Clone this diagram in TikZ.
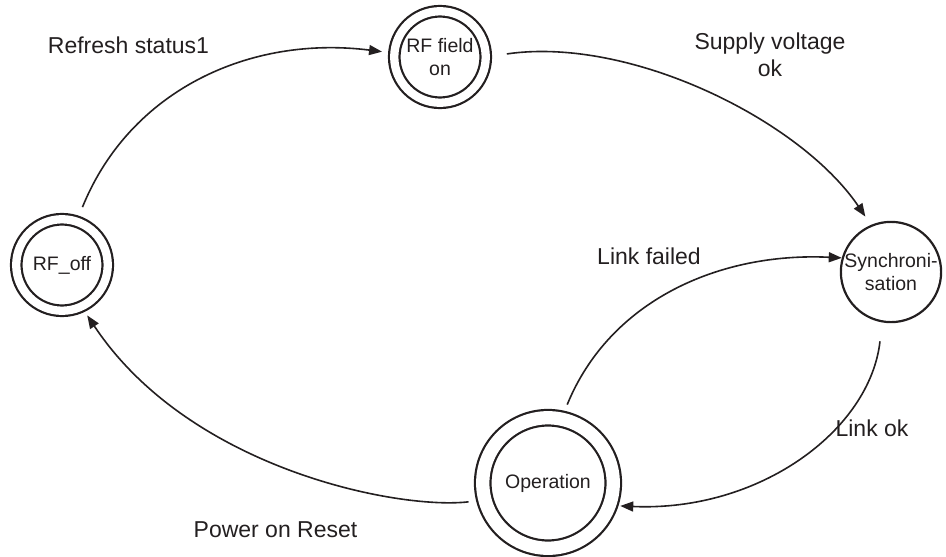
\documentclass[tikz,border=0pt]{standalone}
\usepackage{fontspec}
\setmainfont{Liberation Sans}
\usetikzlibrary{arrows.meta}
\definecolor{ink}{HTML}{231F20}
\tikzset{
  state/.style={circle, draw=ink, line width=2.2pt, inner sep=0pt, text=ink,
    align=center, font=\fontsize{19.5}{23}\selectfont},
  ringed/.style={state, double=white, double distance=#1},
  trans/.style={draw=ink, line width=1.6pt, -{Triangle[length=13pt,width=10pt]}},
  lbl/.style={text=ink, align=center, inner sep=0pt, font=\fontsize{23}{27}\selectfont},
}
\begin{document}
\begin{tikzpicture}[x=1pt,y=-1pt]
\useasboundingbox (0,0) rectangle (946,557);

% states
\node[ringed=8.3pt, minimum size=91.5pt, outer sep=6.25pt] (rfoff) at (62,265) {RF\_off};
\node[ringed=8.3pt, minimum size=91.5pt, outer sep=6.25pt] (rfon) at (440,57) {RF field\\on};
\node[state, minimum size=98pt, outer sep=1.1pt] (sync) at (891,272) {Synchroni-\\sation};
\node[ringed=13.3pt, minimum size=130.5pt, outer sep=8.75pt] (op) at (548,483) {Operation};

% transitions
\draw[trans, shorten <=9.4pt, shorten >=6.2pt]
  (rfoff.71) .. controls (130,90) and (250,35) .. (rfon.175);
\draw[trans, shorten <=15pt, shorten >=10pt]
  (rfon.1.7) .. controls (630,36) and (800,120) .. (sync.113.6);
\draw[trans, shorten <=6.8pt]
  (op.77.9) .. controls (610,300) and (720,252) .. (sync.164);
\draw[trans, shorten <=19pt, shorten >=1.9pt]
  (sync.260.8) .. controls (870,430) and (760,512) .. (op.-18.4);
\draw[trans, shorten <=7.7pt, shorten >=4.4pt]
  (op.194) .. controls (400,510) and (190,470) .. (rfoff.-64.8);

% transition labels
\node[lbl] (l1) at (128.5,45) {Refresh status1};
\node[lbl] (l2) at (770,55) {Supply voltage\\ok};
\node[lbl] (l3) at (649,256.5) {Link failed};
\node[lbl] (l4) at (872,428) {Link ok};
\node[lbl] (l5) at (275.5,529.5) {Power on Reset};
\end{tikzpicture}
\end{document}
